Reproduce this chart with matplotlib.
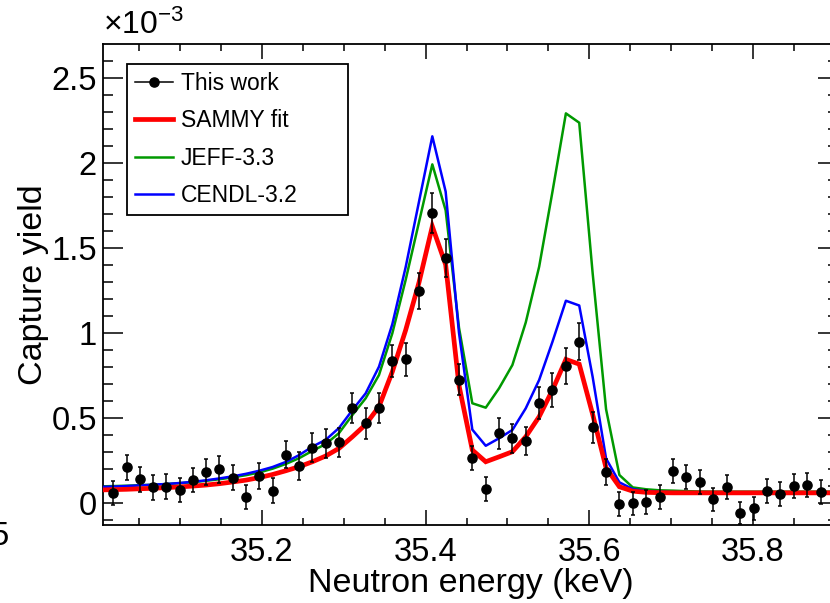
import matplotlib
matplotlib.use("Agg")
import matplotlib.pyplot as plt
from matplotlib.lines import Line2D
from matplotlib.ticker import MultipleLocator, FuncFormatter

plt.rcParams["font.family"] = ["Liberation Sans", "DejaVu Sans"]
plt.rcParams["mathtext.fontset"] = "custom"
plt.rcParams["mathtext.rm"] = "Liberation Sans"
plt.rcParams["mathtext.it"] = "Liberation Sans:italic"

# Neutron energy of each time-of-flight bin (keV)
energy = [35.0182, 35.0344, 35.0506, 35.0668, 35.0830, 35.0992, 35.1155, 35.1317,
          35.1479, 35.1641, 35.1804, 35.1966, 35.2129, 35.2291, 35.2454, 35.2616,
          35.2779, 35.2942, 35.3105, 35.3267, 35.3430, 35.3593, 35.3756, 35.3919,
          35.4082, 35.4245, 35.4408, 35.4571, 35.4735, 35.4898, 35.5061, 35.5224,
          35.5388, 35.5551, 35.5715, 35.5878, 35.6042, 35.6206, 35.6369, 35.6533,
          35.6697, 35.6861, 35.7025, 35.7188, 35.7352, 35.7516, 35.7680, 35.7845,
          35.8009, 35.8173, 35.8337, 35.8501, 35.8666, 35.8830]

# Measured capture yield and its uncertainty (units of 1e-3)
yield_data = [0.055, 0.208, 0.138, 0.090, 0.094, 0.075, 0.134, 0.182,
              0.196, 0.147, 0.032, 0.157, 0.071, 0.283, 0.216, 0.324,
              0.349, 0.355, 0.555, 0.467, 0.559, 0.834, 0.843, 1.245,
              1.702, 1.438, 0.724, 0.261, 0.081, 0.408, 0.379, 0.363,
              0.585, 0.663, 0.804, 0.947, 0.444, 0.181, -0.009, -0.004,
              0.006, 0.032, 0.186, 0.153, 0.124, 0.020, 0.094, -0.059,
              -0.033, 0.071, 0.051, 0.098, 0.104, 0.065]
yield_err = [0.070, 0.075, 0.075, 0.075, 0.075, 0.072, 0.072, 0.078,
             0.078, 0.075, 0.070, 0.075, 0.072, 0.080, 0.080, 0.085,
             0.085, 0.085, 0.088, 0.090, 0.088, 0.092, 0.098, 0.106,
             0.118, 0.112, 0.092, 0.070, 0.068, 0.090, 0.085, 0.085,
             0.095, 0.098, 0.105, 0.108, 0.090, 0.075, 0.070, 0.070,
             0.070, 0.070, 0.070, 0.070, 0.070, 0.068, 0.070, 0.065,
             0.068, 0.070, 0.070, 0.070, 0.070, 0.070]

# Calculated yields on the bin grid, padded by one bin at each end
model_energy = [35.0020] + energy + [35.8995, 35.9159]

sammy_fit = [0.075, 0.077, 0.079, 0.082, 0.085, 0.089, 0.093, 0.098, 0.104,
             0.112, 0.122, 0.133, 0.148, 0.166, 0.188, 0.212, 0.241, 0.275,
             0.320, 0.388, 0.460, 0.565, 0.770, 1.015, 1.295, 1.625, 1.400,
             0.690, 0.310, 0.241, 0.270, 0.300, 0.388, 0.506, 0.663, 0.843,
             0.815, 0.520, 0.205, 0.094, 0.068, 0.061, 0.059, 0.058, 0.058,
             0.058, 0.058, 0.058, 0.058, 0.058, 0.058, 0.058, 0.058, 0.058,
             0.058, 0.058, 0.058]

jeff33 = [0.096, 0.098, 0.100, 0.103, 0.106, 0.110, 0.115, 0.121, 0.129,
          0.138, 0.149, 0.162, 0.178, 0.200, 0.228, 0.262, 0.305, 0.345,
          0.410, 0.516, 0.614, 0.751, 0.996, 1.310, 1.650, 1.990, 1.720,
          1.030, 0.585, 0.559, 0.673, 0.810, 1.060, 1.388, 1.830, 2.290,
          2.235, 1.350, 0.550, 0.163, 0.090, 0.079, 0.073, 0.071, 0.068,
          0.066, 0.065, 0.065, 0.065, 0.065, 0.065, 0.065, 0.065, 0.065,
          0.065, 0.065, 0.065]

cendl32 = [0.093, 0.095, 0.098, 0.102, 0.106, 0.110, 0.116, 0.123, 0.132,
           0.143, 0.155, 0.170, 0.188, 0.210, 0.240, 0.280, 0.330, 0.370,
           0.440, 0.545, 0.643, 0.800, 1.050, 1.385, 1.770, 2.155, 1.830,
           1.000, 0.430, 0.335, 0.379, 0.428, 0.555, 0.722, 0.947, 1.188,
           1.160, 0.740, 0.260, 0.120, 0.080, 0.068, 0.064, 0.062, 0.062,
           0.062, 0.062, 0.062, 0.062, 0.062, 0.062, 0.062, 0.062, 0.062,
           0.062, 0.062, 0.062]

W, H = 830, 603
fig = plt.figure(figsize=(W / 100, H / 100), dpi=100)
ax_left, ax_right, ax_top, ax_bottom = 103.3, 838.3, 44.0, 525.0
ax = fig.add_axes([ax_left / W, 1 - ax_bottom / H,
                   (ax_right - ax_left) / W, (ax_bottom - ax_top) / H])

green = "#009900"
ax.plot(model_energy, jeff33, color=green, lw=1.8, zorder=2)
ax.plot(model_energy, cendl32, color="#0000ff", lw=1.8, zorder=3)
ax.plot(model_energy, sammy_fit, color="#ff0000", lw=3.4, zorder=4,
        solid_joinstyle="miter")
ax.errorbar(energy, yield_data, yerr=yield_err, fmt="o", color="black",
            ms=6.6, elinewidth=1.1, capsize=1.7, capthick=1.1, zorder=5)

ax.set_xlim(35.006, 35.9045)
ax.set_ylim(-0.131, 2.698)

ax.xaxis.set_major_locator(MultipleLocator(0.2))
ax.xaxis.set_minor_locator(MultipleLocator(0.05))
ax.yaxis.set_major_locator(MultipleLocator(0.5))
ax.yaxis.set_minor_locator(MultipleLocator(0.1))
ax.yaxis.set_major_formatter(FuncFormatter(lambda v, p: f"{v:g}"))
ax.xaxis.set_major_formatter(FuncFormatter(lambda v, p: f"{v:.1f}"))

for s in ax.spines.values():
    s.set_linewidth(1.3)
ax.tick_params(axis="both", which="both", direction="in", top=True, right=True,
               width=1.1, labelsize=23.5)
ax.tick_params(axis="x", which="major", length=10.5, pad=8.4)
ax.tick_params(axis="x", which="minor", length=5.2)
ax.tick_params(axis="y", which="major", length=14.5, pad=4.7)
ax.tick_params(axis="y", which="minor", length=7.2)

ax.set_xlabel("Neutron energy (keV)", fontsize=24.5, labelpad=0)
ax.set_ylabel("Capture yield", fontsize=24.5, labelpad=1.5)

ax.text(0.0, 1.006, r"$\times10^{-3}$", transform=ax.transAxes,
        fontsize=23, ha="left", va="bottom")

# Edge of the neighbouring panel's tick label
fig.text(-9 / W, 1 - 545 / H, "5", fontsize=23.5, ha="left", va="baseline")

handles = [
    Line2D([], [], color="black", lw=1.1, marker="o", ms=6.6),
    Line2D([], [], color="#ff0000", lw=3.4),
    Line2D([], [], color=green, lw=1.8),
    Line2D([], [], color="#0000ff", lw=1.8),
]
labels = ["This work", "SAMMY fit", "JEFF-3.3", "CENDL-3.2"]
leg = ax.legend(handles, labels, loc="upper left",
                bbox_to_anchor=(0.0318, 0.655, 0.301, 0.303), mode="expand",
                fontsize=16.5, frameon=True, fancybox=False, framealpha=1,
                edgecolor="black", borderaxespad=0, borderpad=0.35,
                labelspacing=0.62, handlelength=1.66, handletextpad=0.35)
leg.get_frame().set_linewidth(1.3)

fig.savefig("out.png", dpi=100)
